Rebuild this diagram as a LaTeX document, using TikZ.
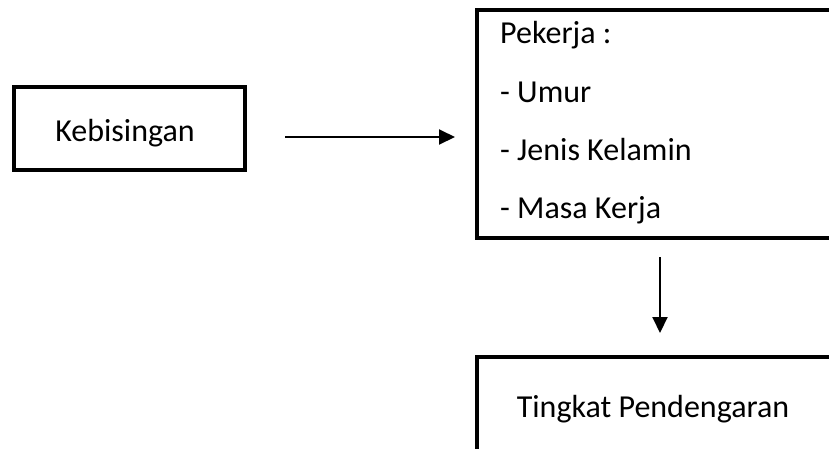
\documentclass[tikz,border=0pt]{standalone}
\usepackage{fontspec}
\setmainfont{Carlito}
\usetikzlibrary{arrows.meta}
\begin{document}
\begin{tikzpicture}[x=1pt,y=-1pt,
  boxframe/.style={draw=black, line width=4pt, rectangle, inner sep=0pt},
  label/.style={font=\fontsize{32}{38}\selectfont, inner sep=0pt},
  arr/.style={draw=black, line width=2pt, -{Triangle[length=16pt,width=15pt]}}]
  \useasboundingbox (0,0) rectangle (829,448);
  \clip (0,0) rectangle (829,448);
  \fill[white] (0,0) rectangle (829,448);

  % boxes
  \node[boxframe, minimum width=231pt, minimum height=83pt] (keb) at (129.5,128.5) {};
  \node[boxframe, minimum width=373pt, minimum height=228pt] (pek) at (663.5,124) {};
  \node[boxframe, minimum width=373pt, minimum height=113pt] (tin) at (663.5,413.5) {};

  % texts
  \node[label, anchor=base] (kebtxt) at (125,141) {Kebisingan};
  \node[label, anchor=base west] (pek1) at (500,43) {Pekerja :};
  \node[label, anchor=base west] (pek2) at (500,102) {- Umur};
  \node[label, anchor=base west] (pek3) at (500,160) {- Jenis Kelamin};
  \node[label, anchor=base west] (pek4) at (500,218) {- Masa Kerja};
  \node[label, anchor=base] (tintxt) at (653,417) {Tingkat Pendengaran};

  % connectors
  \coordinate (hy) at (0,137);
  \coordinate (vx) at (660,0);
  \draw[arr, shorten <=38pt, shorten >=20pt] (keb.east |- hy) -- (pek.west |- hy);
  \draw[arr, shorten <=17pt, shorten >=22pt] (pek.south -| vx) -- (tin.north -| vx);
\end{tikzpicture}
\end{document}
